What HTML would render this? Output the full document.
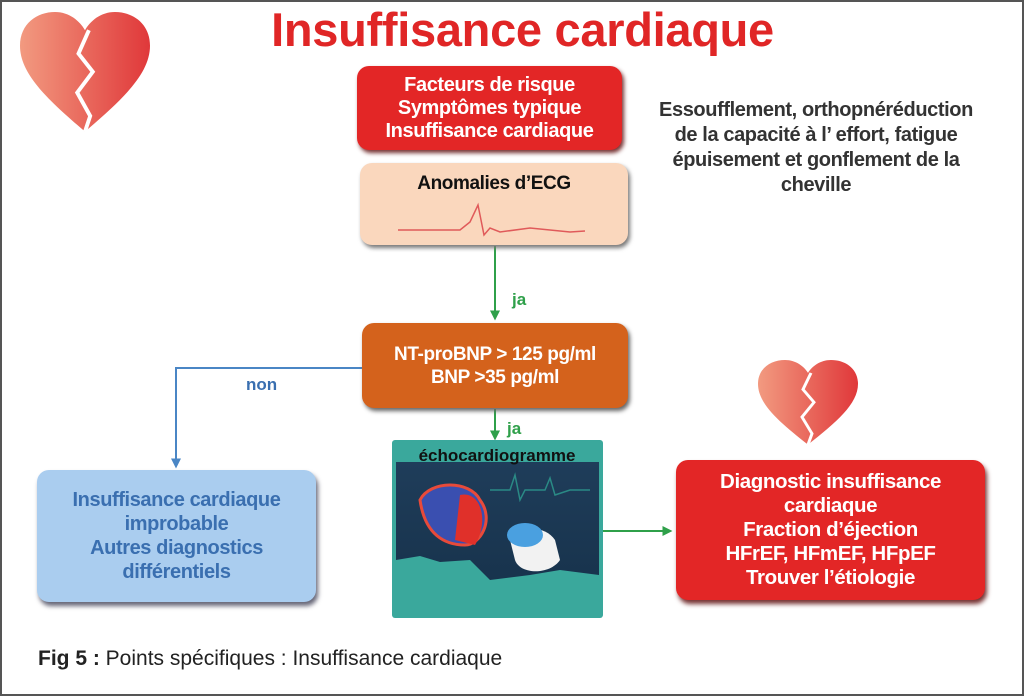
<!DOCTYPE html>
<html><head><meta charset="utf-8"><style>
body{margin:0;width:1024px;height:696px;overflow:hidden;background:#fff;font-family:"Liberation Sans",sans-serif}
#f{position:absolute;left:0;top:0;width:1020px;height:692px;border:2px solid #555;background:#fff}
.b{position:absolute;box-sizing:border-box;border-radius:12px;text-align:center;font-weight:bold;display:flex;flex-direction:column;justify-content:center;letter-spacing:-0.4px}
.t{position:absolute;font-weight:bold}
</style></head><body>
<div id="f"></div>
<svg width="1024" height="696" style="position:absolute;left:0;top:0">
<defs>
<linearGradient id="hg" x1="0" x2="1"><stop offset="0" stop-color="#f29a80"/><stop offset="1" stop-color="#e0383a"/></linearGradient>
<linearGradient id="eg" x1="0" y1="0" x2="0" y2="1"><stop offset="0" stop-color="#1f3d5a"/><stop offset="1" stop-color="#16314a"/></linearGradient>
<marker id="ag" viewBox="0 0 8 8" markerWidth="5" markerHeight="5" refX="6" refY="4" orient="auto"><path d="M0,0 L8,4 L0,8 Z" fill="#2fa04a"/></marker>
<marker id="ab" viewBox="0 0 8 8" markerWidth="5" markerHeight="5" refX="6" refY="4" orient="auto"><path d="M0,0 L8,4 L0,8 Z" fill="#4a86c5"/></marker>
<g id="heart"><path d="M50,92 C22,68 0,48 0,26 C0,9 13,0 27,0 C38,0 46,7 50,14 C54,7 62,0 73,0 C87,0 100,9 100,26 C100,48 78,68 50,92 Z" fill="url(#hg)"/><path d="M53,14 L45,32 L56,46 L44,62 L54,80 L50,92" stroke="#fff" stroke-width="3" fill="none"/></g>
</defs>
<use href="#heart" transform="translate(20,12) scale(1.3,1.3)"/>
<use href="#heart" transform="translate(758,360) scale(1.0,0.92)"/>
<line x1="495" y1="246" x2="495" y2="318" stroke="#2fa04a" stroke-width="2" marker-end="url(#ag)"/>
<line x1="495" y1="409" x2="495" y2="438" stroke="#2fa04a" stroke-width="2" marker-end="url(#ag)"/>
<polyline points="362,368 176,368 176,466" stroke="#4a86c5" stroke-width="2" fill="none" marker-end="url(#ab)"/>
<line x1="603" y1="531" x2="670" y2="531" stroke="#2fa04a" stroke-width="2" marker-end="url(#ag)"/>
<rect x="392" y="440" width="211" height="178" fill="#3aa89c" rx="3"/>
<rect x="396" y="462" width="203" height="146" fill="url(#eg)"/>
<path d="M396,560 L420,556 L440,562 L470,560 L490,580 L530,575 L560,570 L599,575 L599,608 L396,608 Z" fill="#3aa89c"/>
<path d="M490,490 L510,490 L515,475 L520,500 L525,490 L545,490 L550,478 L555,495 L570,490 L590,490" stroke="#2a8a85" stroke-width="1.5" fill="none"/>
<path d="M420,500 C430,480 470,480 480,500 C495,520 480,545 465,545 C445,545 425,535 420,500 Z" fill="#3a4fb0" stroke="#e84a3a" stroke-width="3"/>
<path d="M460,495 C480,490 490,520 475,545 L455,540 Z" fill="#e0302a"/>
<path d="M510,540 C520,525 545,525 555,540 L560,560 C550,575 520,575 515,560 Z" fill="#f2f2f2"/>
<ellipse cx="525" cy="535" rx="18" ry="12" fill="#4aa0e0"/>
<text x="497" y="461" font-family="Liberation Sans" font-weight="bold" font-size="17" text-anchor="middle" fill="#111">échocardiogramme</text>
</svg>
<div class="t" style="left:220px;top:2px;width:605px;text-align:center;font-size:47px;color:#e02626;letter-spacing:-0.3px">Insuffisance cardiaque</div>
<div class="b" style="left:357px;top:66px;width:265px;height:84px;background:#e32626;color:#fff;font-size:20px;line-height:23px;box-shadow:2px 3px 4px #733">Facteurs de risque<br>Symptômes typique<br>Insuffisance cardiaque</div>
<div class="b" style="left:360px;top:163px;width:268px;height:82px;background:#fad7bd;color:#111;font-size:19px;justify-content:flex-start;padding-top:10px;box-shadow:2px 3px 4px #777">Anomalies d’ECG</div>
<svg width="1024" height="696" style="position:absolute;left:0;top:0;pointer-events:none">
<path d="M398,230 L460,230 L470,222 L478,205 L484,235 L490,228 L500,232 L530,228 L570,232 L585,231" stroke="#e05a5a" stroke-width="1.5" fill="none"/>
</svg>
<div class="b" style="left:362px;top:323px;width:266px;height:85px;background:#d4621c;color:#fff;font-size:19px;line-height:23px;box-shadow:2px 3px 4px #666">NT-proBNP &gt; 125 pg/ml<br>BNP &gt;35 pg/ml</div>
<div class="b" style="left:37px;top:470px;width:279px;height:132px;background:#aacdef;color:#3a6fb0;font-size:20px;line-height:24px;box-shadow:2px 4px 5px #667">Insuffisance cardiaque<br>improbable<br>Autres diagnostics<br>différentiels</div>
<div class="b" style="left:676px;top:460px;width:309px;height:140px;background:#e32626;color:#fff;font-size:20.5px;line-height:24px;box-shadow:2px 4px 5px #733">Diagnostic insuffisance<br>cardiaque<br>Fraction d’éjection<br>HFrEF, HFmEF, HFpEF<br>Trouver l’étiologie</div>
<div class="t" style="left:630px;top:98px;width:372px;text-align:center;font-size:20px;line-height:25px;color:#333;letter-spacing:-0.4px">Essoufflement, orthopnéréduction<br>de la capacité à l’ effort, fatigue<br>épuisement et gonflement de la<br>cheville</div>
<div class="t" style="left:512px;top:290px;font-size:17px;color:#2fa04a">ja</div>
<div class="t" style="left:507px;top:419px;font-size:17px;color:#2fa04a">ja</div>
<div class="t" style="left:246px;top:375px;font-size:17px;color:#3a6fb0">non</div>
<div style="position:absolute;left:38px;top:647px;font-size:21px;color:#222"><b>Fig 5 :</b> Points spécifiques : Insuffisance cardiaque</div>
</body></html>
